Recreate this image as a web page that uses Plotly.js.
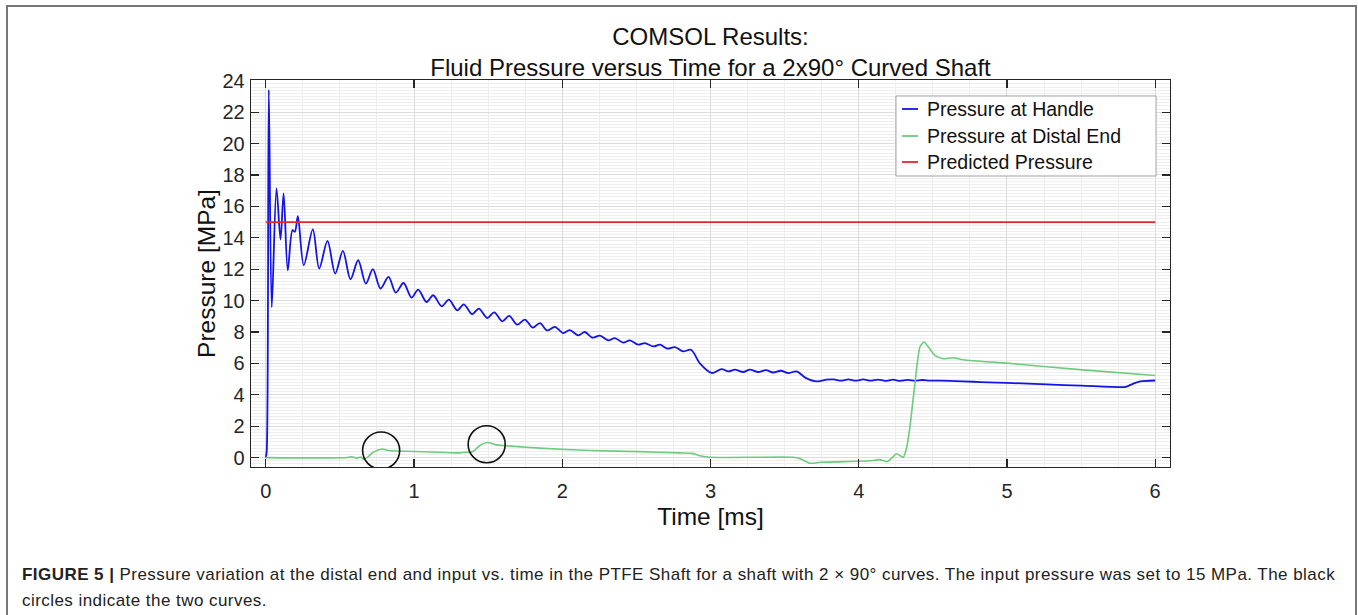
<!DOCTYPE html>
<html>
<head>
<meta charset="utf-8">
<script src="https://cdn.plot.ly/plotly-3.0.1.min.js"></script>
<style>
  html, body { margin: 0; padding: 0; background: #fff; }
  #wrap { position: relative; width: 1358px; height: 615px; overflow: hidden; }
  #chart { position: absolute; left: 0; top: 0; width: 1358px; height: 615px; }
  #frame { position: absolute; left: 6px; top: 5px; width: 1347px; height: 640px;
           border: 2px solid #777; border-bottom: none; pointer-events: none; }
  #caption { position: absolute; left: 22px; top: 562px; font-family: "Liberation Sans", Arial, sans-serif;
             font-size: 17px; letter-spacing: 0.45px; line-height: 26px; color: #222; white-space: nowrap; }
</style>
</head>
<body>
<div id="wrap">
  <div id="chart"></div>
  <div id="frame"></div>
  <div id="caption"><b>FIGURE 5 |</b> Pressure variation at the distal end and input vs. time in the PTFE Shaft for a shaft with 2 × 90° curves. The input pressure was set to 15 MPa. The black<br>circles indicate the two curves.</div>
</div>
<script>
// ---- data ----
const handleTime = [0, 0.006, 0.02, 0.04, 0.072, 0.099, 0.12, 0.148, 0.18, 0.196, 0.216, 0.256, 0.317, 0.36, 0.416, 0.468,
  0.52, 0.571, 0.623, 0.675, 0.722, 0.774, 0.828, 0.877, 0.929, 0.983, 1.028, 1.084, 1.129, 1.186, 1.235, 1.291,
  1.336, 1.392, 1.437, 1.494, 1.541, 1.595, 1.642, 1.696, 1.748, 1.8, 1.849, 1.898, 1.95, 2.007, 2.05, 2.108,
  2.152, 2.204, 2.254, 2.31, 2.355, 2.411, 2.456, 2.512, 2.557, 2.614, 2.659, 2.71, 2.76, 2.816, 2.868, 2.93,
  3.007, 3.075, 3.12, 3.165, 3.22, 3.266, 3.322, 3.374, 3.423, 3.475, 3.524, 3.581, 3.642, 3.72, 3.783,
  3.83, 3.88, 3.93, 3.98, 4.03, 4.08, 4.13, 4.18, 4.23, 4.28, 4.33, 4.38, 4.43, 4.48, 4.55, 4.7, 4.82, 5.0,
  5.27, 5.5, 5.76, 5.8, 5.85, 5.9, 6.0];
const handlePressure = [0, 0.4, 23.42, 9.57, 17.15, 13.89, 16.83, 11.93, 14.49, 14.38, 15.38, 12.25, 14.53, 12.04, 13.8, 11.72,
  13.17, 11.36, 12.57, 11.08, 12.0, 10.77, 11.51, 10.51, 11.12, 10.19, 10.7, 9.91, 10.34, 9.64, 10.06, 9.38,
  9.76, 9.13, 9.49, 8.89, 9.25, 8.68, 9.02, 8.47, 8.79, 8.28, 8.57, 8.1, 8.32, 7.93, 8.12, 7.79,
  8.0, 7.64, 7.77, 7.47, 7.61, 7.32, 7.47, 7.19, 7.29, 7.08, 7.19, 6.94, 7.04, 6.76, 6.87, 5.98,
  5.39, 5.64, 5.49, 5.6, 5.45, 5.6, 5.45, 5.57, 5.42, 5.53, 5.38, 5.49, 5.08, 4.85, 4.96,
  4.98, 4.9, 4.98, 4.9, 4.98, 4.9, 4.97, 4.89, 4.96, 4.89, 4.95, 4.89, 4.94, 4.9, 4.9, 4.86, 4.81, 4.76,
  4.66, 4.58, 4.49, 4.5, 4.7, 4.85, 4.91];

const distalTime = [0, 0.55, 0.57, 0.6, 0.61, 0.64, 0.66, 0.69, 0.724, 0.785, 0.826, 0.95, 1.17, 1.31, 1.34, 1.37, 1.4,
  1.444, 1.494, 1.557, 1.7, 1.85, 2.19, 2.52, 2.79, 2.88, 2.93, 3.0, 3.56, 3.6, 3.67, 3.74, 3.9, 4.1, 4.14, 4.19,
  4.22, 4.255, 4.28, 4.3, 4.32, 4.345, 4.379, 4.413, 4.44, 4.47, 4.514, 4.57, 4.638, 4.705, 5.04, 5.49, 6.0];
const distalPressure = [0, 0, 0.05, 0.0, -0.05, 0.04, -0.1, 0.05, 0.34, 0.55, 0.45, 0.4, 0.34, 0.3, 0.34, 0.33, 0.4,
  0.77, 0.96, 0.81, 0.7, 0.6, 0.45, 0.38, 0.3, 0.27, 0.12, 0.02, 0.02, -0.05, -0.36, -0.3, -0.26, -0.19, -0.13, -0.26,
  -0.05, 0.24, 0.12, 0.02, 0.5, 1.93, 4.7, 7.04, 7.36, 7.04, 6.51, 6.3, 6.36, 6.23, 5.98, 5.6, 5.23];

const predictedTime = [0, 6];
const predictedPressure = [15, 15];

// circled points (the two curves of the shaft)
const curveMarkTime = [0.778, 1.49];
const curveMarkPressure = [0.45, 0.85];

const seriesNames = ["Pressure at Handle", "Pressure at Distal End", "Predicted Pressure"];
const xTickValues = [0, 1, 2, 3, 4, 5, 6];
const yTickValues = [0, 2, 4, 6, 8, 10, 12, 14, 16, 18, 20, 22, 24];

// ---- chart ----
const FONT = '"Liberation Sans", Arial, Helvetica, sans-serif';
const seriesColors = ['#1414e6', '#6dcc7c', '#e8262a'];
const circleHalfWidth = 0.125, circleHalfHeight = 1.18;

const traces = [
  { x: handleTime, y: handlePressure, name: seriesNames[0], type: 'scatter', mode: 'lines',
    line: { color: seriesColors[0], width: 1.8, shape: 'spline', smoothing: 0.9 } },
  { x: distalTime, y: distalPressure, name: seriesNames[1], type: 'scatter', mode: 'lines',
    line: { color: seriesColors[1], width: 1.6, shape: 'spline', smoothing: 0.6 } },
  { x: predictedTime, y: predictedPressure, name: seriesNames[2], type: 'scatter', mode: 'lines',
    line: { color: seriesColors[2], width: 1.8 } }
];

const shapes = curveMarkTime.map((t, i) => ({
  type: 'circle', xref: 'x', yref: 'y',
  x0: t - circleHalfWidth, x1: t + circleHalfWidth,
  y0: curveMarkPressure[i] - circleHalfHeight, y1: curveMarkPressure[i] + circleHalfHeight,
  line: { color: '#111', width: 1.6 }
}));

// MATLAB-style legend box (paper coordinates)
const legendBox = { x0: 0.7018, x1: 0.9848, y0: 0.7519, y1: 0.9587 };
const legendRowY = [0.9251, 0.8553, 0.7881];
const legendLineX = [0.7084, 0.7258], legendTextX = 0.7334;
shapes.push({ type: 'rect', xref: 'paper', yref: 'paper', x0: legendBox.x0, x1: legendBox.x1,
  y0: legendBox.y0, y1: legendBox.y1, fillcolor: '#fff', line: { color: '#a0a0a0', width: 1 }, layer: 'above' });
const annotations = [];
seriesNames.forEach((nm, i) => {
  shapes.push({ type: 'line', xref: 'paper', yref: 'paper', x0: legendLineX[0], x1: legendLineX[1],
    y0: legendRowY[i], y1: legendRowY[i], line: { color: seriesColors[i], width: 1.8 }, layer: 'above' });
  annotations.push({ xref: 'paper', yref: 'paper', x: legendTextX, y: legendRowY[i], xanchor: 'left', yanchor: 'middle',
    text: nm, showarrow: false, font: { family: FONT, size: 19.5, color: '#111' } });
});

const axisCommon = {
  showline: true, linecolor: '#262626', linewidth: 1.3, mirror: 'ticks',
  ticks: 'inside', ticklen: 8, tickwidth: 1.3, tickcolor: '#262626',
  showgrid: true, gridcolor: '#dcdcdc', gridwidth: 1, zeroline: false,
  tickfont: { family: FONT, size: 20, color: '#262626' }
};

const layout = {
  width: 1358, height: 615,
  margin: { l: 251, r: 188, t: 80, b: 148 },
  paper_bgcolor: '#fff', plot_bgcolor: '#fff',
  title: { text: 'COMSOL Results:<br>Fluid Pressure versus Time for a 2x90° Curved Shaft',
           font: { family: FONT, size: 24, color: '#111' },
           xref: 'paper', x: 0.5, xanchor: 'center', yref: 'container', y: 0.927, yanchor: 'top' },
  xaxis: Object.assign({}, axisCommon, {
    range: [-0.1, 6.1], tickvals: xTickValues, ticktext: xTickValues.map(String),
    ticklabelstandoff: 6,
    minor: { dtick: 0.25, tick0: 0, showgrid: true, gridcolor: '#eeeeee', gridwidth: 1, ticks: '' },
    title: { text: 'Time [ms]', font: { family: FONT, size: 24.5, color: '#111' }, standoff: 6 }
  }),
  yaxis: Object.assign({}, axisCommon, {
    range: [-0.6, 24.05], tickvals: yTickValues, ticktext: yTickValues.map(String),
    ticklabelstandoff: 1,
    minor: { dtick: 0.2, tick0: 0, showgrid: true, gridcolor: '#eeeeee', gridwidth: 1, ticks: '' },
    title: { text: 'Pressure [MPa]', font: { family: FONT, size: 24.5, color: '#111' }, standoff: 0 }
  }),
  showlegend: false,
  shapes: shapes,
  annotations: annotations
};

Plotly.newPlot('chart', traces, layout, { displayModeBar: false, staticPlot: true });
</script>
</body>
</html>
